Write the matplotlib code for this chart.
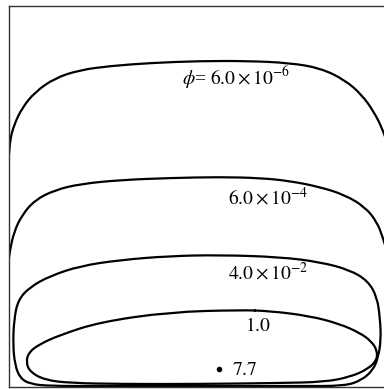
import numpy as np
import matplotlib.pyplot as plt
from matplotlib.path import Path
from matplotlib.patches import PathPatch

plt.rcParams['mathtext.fontset'] = 'stix'
plt.rcParams['font.family'] = 'Liberation Serif'

# iso-lines of phi (open ones run out of the box on both sides)
c1_x = [-3, 0, 1, 5, 13, 26, 46, 71, 101, 141, 191, 241, 281, 311, 336, 353, 365, 373, 379, 383, 386]
c1_y = [205, 230, 247, 262, 279, 295, 309, 317, 321, 324, 326, 326, 324, 319, 307, 292, 275, 259, 242, 222, 200]

c2_x = [-3, -1, 1, 5, 13, 26, 46, 71, 111, 161, 211, 251, 281, 311, 336, 356, 368, 374, 379, 383, 386]
c2_y = [100, 122, 137, 155, 172, 187, 197, 203, 207, 209, 210, 209, 206, 200, 192, 180, 165, 149, 132, 112, 95]

c3_x = [211, 161, 111, 71, 41, 21, 9, 5, 4, 6, 11, 21, 41, 91, 191, 291, 336, 353, 364, 369, 372, 371, 368, 359, 341, 311, 271, 211]
c3_y = [132, 131, 127, 121, 111, 100, 87, 67, 42, 22, 9, 3, 1, 1, 1, 1, 1, 7, 17, 29, 47, 69, 90, 106, 117, 125, 130, 132]

c4_x = [231, 161, 91, 51, 31, 20, 17, 21, 36, 61, 111, 191, 271, 315, 341, 359, 368, 368, 362, 351, 331, 301, 261, 231]
c4_y = [77, 75, 65, 52, 43, 35, 25, 15, 7, 4, 3, 3, 4, 5, 10, 18, 27, 37, 46, 54, 63, 71, 76, 77]

# maximum point
peak_x = [210]
peak_y = [18]

labels = [r'$\phi$= $6.0\times10^{-6}$', r'$6.0\times10^{-4}$', r'$4.0\times10^{-2}$', r'$1.0$', r'$7.7$']
label_x = [173, 219, 219, 236, 223]
label_y = [302, 182, 107, 56, 12]


def smooth_path(xs, ys, closed=False):
    # quadratic bezier through the midpoints, points act as control points
    pts = np.column_stack([xs, ys]).astype(float)
    if closed:
        pts = pts[:-1]
        mids = (pts + np.roll(pts, -1, axis=0)) / 2
        verts = [mids[-1]]
        codes = [Path.MOVETO]
        for i in range(len(pts)):
            verts += [pts[i], mids[i]]
            codes += [Path.CURVE3, Path.CURVE3]
    else:
        verts = [pts[0]]
        codes = [Path.MOVETO]
        for i in range(1, len(pts) - 1):
            verts += [pts[i], (pts[i] + pts[i + 1]) / 2]
            codes += [Path.CURVE3, Path.CURVE3]
        verts.append(pts[-1])
        codes.append(Path.LINETO)
    return Path(verts, codes)


fig = plt.figure(figsize=(3.84, 3.89), dpi=100)
ax = fig.add_axes([9 / 384, 2 / 389, 383 / 384, 381 / 389])
ax.set_xlim(0, 383)
ax.set_ylim(0, 381)

curves = [(c1_x, c1_y, False), (c2_x, c2_y, False), (c3_x, c3_y, True), (c4_x, c4_y, True)]
for xs, ys, closed in curves:
    ax.add_patch(PathPatch(smooth_path(xs, ys, closed), facecolor='none',
                           edgecolor='black', lw=1.6, capstyle='round', joinstyle='round'))

ax.plot(peak_x, peak_y, 'o', color='black', ms=3)

for txt, x, y in zip(labels, label_x, label_y):
    ax.text(x, y, txt, fontsize=14, va='baseline', ha='left')

ax.set_xticks([])
ax.set_yticks([])
ax.spines['right'].set_visible(False)
for s in ['left', 'top', 'bottom']:
    ax.spines[s].set_linewidth(1.0)
    ax.spines[s].set_color('#333333')

fig.savefig('out.png', dpi=100)
